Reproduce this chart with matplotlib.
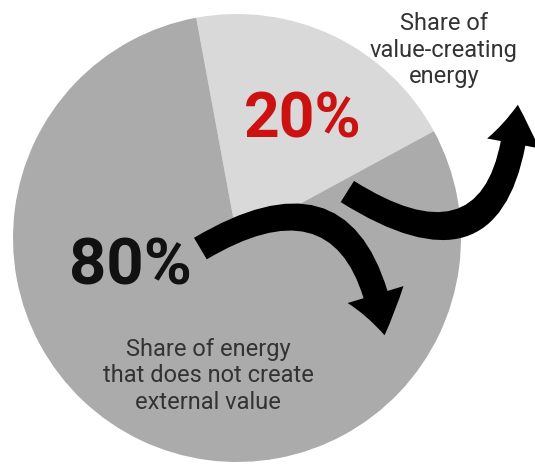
import matplotlib
matplotlib.use("Agg")
import matplotlib.pyplot as plt
from matplotlib.patches import FancyArrowPatch

# Data
categories = ["Share of\nvalue-creating\nenergy", "Share of energy\nthat does not create\nexternal value"]
shares = [20, 80]
share_labels = ["20%", "80%"]
colors = ["#d9d9d9", "#ababab"]

W, H = 535, 466
fig = plt.figure(figsize=(W / 100, H / 100), dpi=100)
ax = fig.add_axes([0, 0, 1, 1])

cx, cy, r = 237, H - 238, 224
ax.pie(shares, colors=colors, startangle=28.5, counterclock=True,
       center=(cx, cy), radius=r, frame=True,
       wedgeprops=dict(linewidth=0))
ax.set_xlim(0, W)
ax.set_ylim(0, H)
ax.set_aspect("equal")
ax.axis("off")

fam = ["Roboto", "DejaVu Sans"]

# Percentage labels
ax.text(303, H - 121, share_labels[0], color="#cc1111", fontsize=45, fontweight="semibold",
        ha="center", va="center", family=fam)
ax.text(130, H - 267, share_labels[1], color="#111111", fontsize=47, fontweight="semibold",
        ha="center", va="center", family=fam)

# Category labels
ax.text(444, H - 50, categories[0], color="#333333", fontsize=17, ha="center", va="center",
        linespacing=1.2, family=fam)
ax.text(208, H - 376, categories[1], color="#333333", fontsize=17, ha="center", va="center",
        linespacing=1.2, family=fam)

# Curved arrows
a1 = FancyArrowPatch((345, H - 190), (518, H - 102),
                     connectionstyle="arc3,rad=0.85",
                     arrowstyle="simple,head_length=28,head_width=38,tail_width=18",
                     mutation_scale=1, color="black", lw=0)
ax.add_patch(a1)
a2 = FancyArrowPatch((198, H - 250), (385, H - 338),
                     connectionstyle="arc3,rad=-0.75",
                     arrowstyle="simple,head_length=30,head_width=42,tail_width=18",
                     mutation_scale=1, color="black", lw=0)
ax.add_patch(a2)

fig.savefig("out.png", dpi=100)
